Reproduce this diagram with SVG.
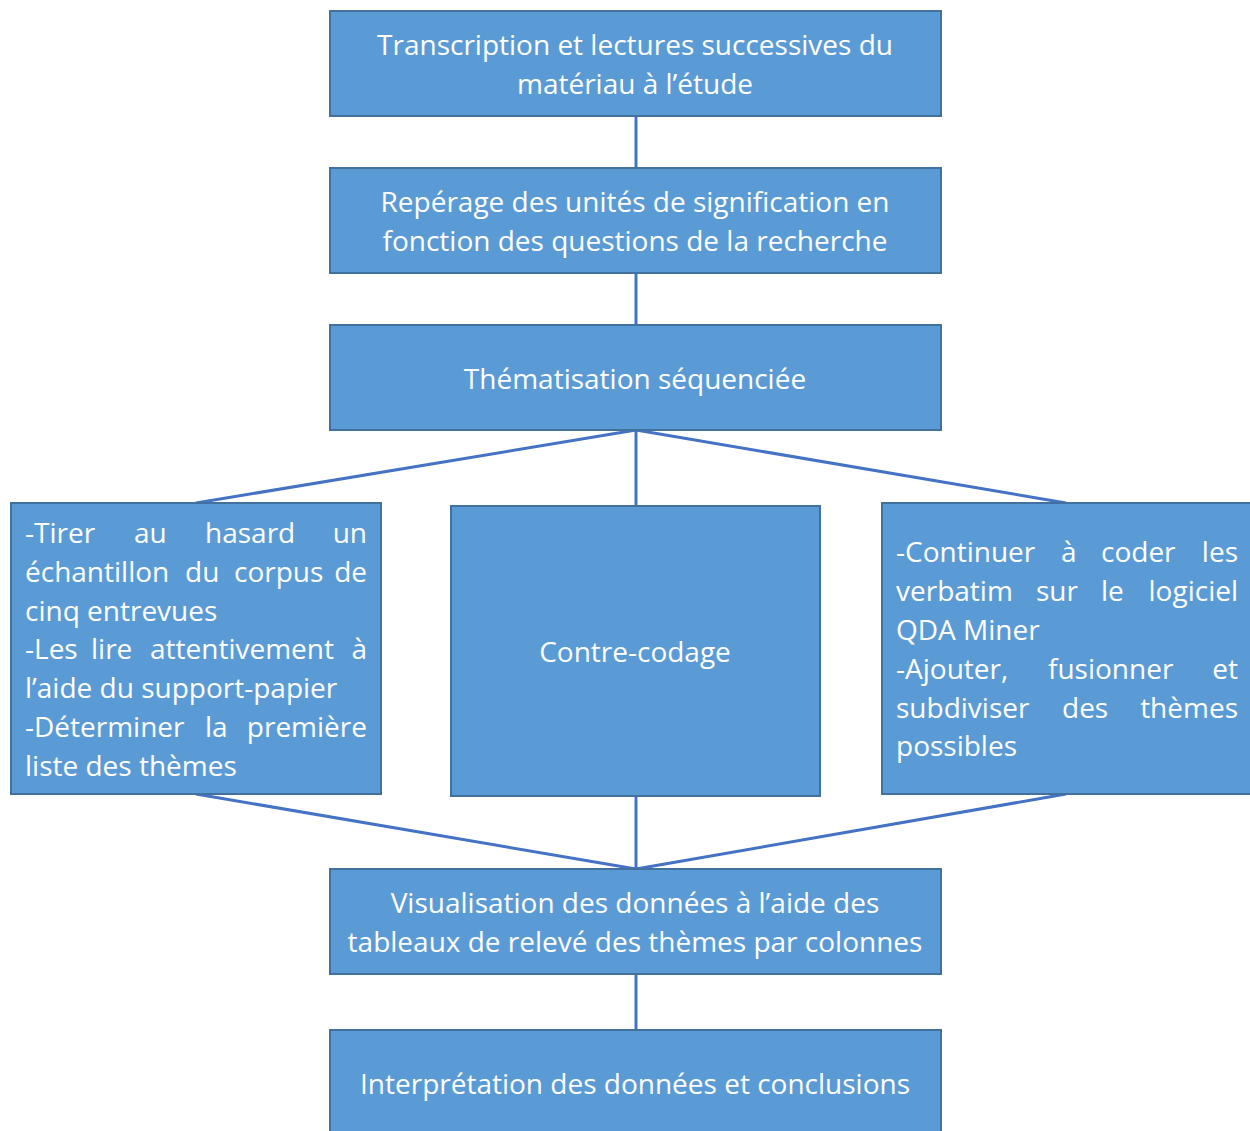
<svg xmlns="http://www.w3.org/2000/svg" width="1250" height="1131" viewBox="0 0 1250 1131">
  <style>
    .box { fill: #5B9BD5; stroke: #41719C; stroke-width: 2; }
    .link { stroke: #4472C4; stroke-width: 3; fill: none; }
    text { font-family: "Open Sans", "Noto Sans", sans-serif; font-size: 28px; fill: #FFFFFF; }
    .c { text-anchor: middle; }
    .e { text-anchor: end; }
  </style>
  <rect width="1250" height="1131" fill="#FFFFFF"/>

  <g id="connectors">
    <line class="link" x1="636" y1="116" x2="636" y2="168"/>
    <line class="link" x1="636" y1="273" x2="636" y2="325"/>
    <line class="link" x1="636" y1="430" x2="196" y2="503"/>
    <line class="link" x1="636" y1="430" x2="636" y2="506"/>
    <line class="link" x1="636" y1="430" x2="1066" y2="503"/>
    <line class="link" x1="196" y1="794" x2="636" y2="869"/>
    <line class="link" x1="636" y1="796" x2="636" y2="869"/>
    <line class="link" x1="1066" y1="794" x2="636" y2="869"/>
    <line class="link" x1="636" y1="974" x2="636" y2="1030"/>
  </g>

  <g id="transcription">
    <rect class="box" x="330" y="11" width="611" height="105"/>
    <text class="c" x="635" y="55">Transcription et lectures successives du</text>
    <text class="c" x="635" y="94">matériau à l’étude</text>
  </g>

  <g id="reperage">
    <rect class="box" x="330" y="168" width="611" height="105"/>
    <text class="c" x="635" y="212">Repérage des unités de signification en</text>
    <text class="c" x="635" y="251">fonction des questions de la recherche</text>
  </g>

  <g id="thematisation">
    <rect class="box" x="330" y="325" width="611" height="105"/>
    <text class="c" x="635" y="389">Thématisation séquenciée</text>
  </g>

  <!-- justified paragraph: each word placed on its own -->
  <g id="echantillon">
    <rect class="box" x="11" y="503" width="370" height="291"/>
    <text x="25" y="543">-Tirer</text>
    <text x="134" y="543">au</text>
    <text x="205" y="543">hasard</text>
    <text class="e" x="367" y="543">un</text>
    <text x="25" y="582">échantillon</text>
    <text x="185" y="582">du</text>
    <text x="234" y="582">corpus</text>
    <text class="e" x="367" y="582">de</text>
    <text x="25" y="621">cinq entrevues</text>
    <text x="25" y="659">-Les</text>
    <text x="91" y="659">lire</text>
    <text x="150" y="659">attentivement</text>
    <text class="e" x="367" y="659">à</text>
    <text x="25" y="698">l’aide du support-papier</text>
    <text x="25" y="737">-Déterminer</text>
    <text x="205" y="737">la</text>
    <text class="e" x="367" y="737">première</text>
    <text x="25" y="776">liste des thèmes</text>
  </g>

  <g id="contre-codage">
    <rect class="box" x="451" y="506" width="369" height="290"/>
    <text class="c" x="635" y="662">Contre-codage</text>
  </g>

  <g id="continuer">
    <rect class="box" x="882" y="503" width="370" height="291"/>
    <text x="896" y="562">-Continuer</text>
    <text x="1061" y="562">à</text>
    <text x="1101" y="562">coder</text>
    <text class="e" x="1238" y="562">les</text>
    <text x="896" y="601">verbatim</text>
    <text x="1036" y="601">sur</text>
    <text x="1101" y="601">le</text>
    <text class="e" x="1238" y="601">logiciel</text>
    <text x="896" y="640">QDA Miner</text>
    <text x="896" y="679">-Ajouter,</text>
    <text x="1048" y="679">fusionner</text>
    <text class="e" x="1238" y="679">et</text>
    <text x="896" y="718">subdiviser</text>
    <text x="1062" y="718">des</text>
    <text class="e" x="1238" y="718">thèmes</text>
    <text x="896" y="756">possibles</text>
  </g>

  <g id="visualisation">
    <rect class="box" x="330" y="869" width="611" height="105"/>
    <text class="c" x="635" y="913">Visualisation des données à l’aide des</text>
    <text class="c" x="635" y="952">tableaux de relevé des thèmes par colonnes</text>
  </g>

  <g id="interpretation">
    <rect class="box" x="330" y="1030" width="611" height="110"/>
    <text class="c" x="635" y="1094">Interprétation des données et conclusions</text>
  </g>
</svg>
